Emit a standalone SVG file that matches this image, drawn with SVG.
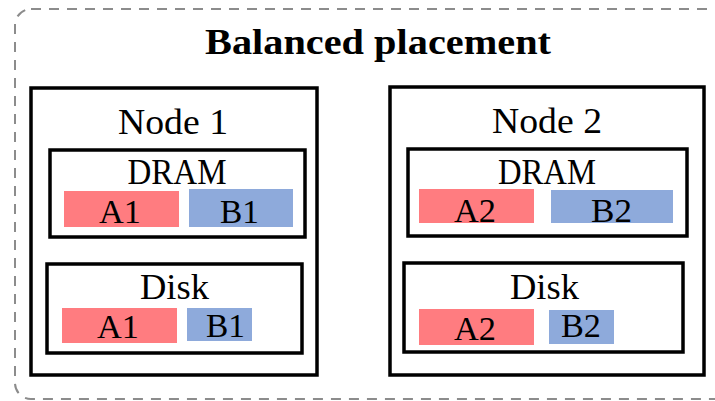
<svg xmlns="http://www.w3.org/2000/svg" width="715" height="401" viewBox="0 0 715 401">
  <style>
    .frame { fill: none; stroke: #8c8c8c; stroke-width: 2; stroke-dasharray: 10 8; }
    .box { fill: #ffffff; stroke: #000000; stroke-width: 3.5; }
    .a { fill: #ff7c80; }
    .b { fill: #8eaadb; }
    text { font-family: "Liberation Serif", "DejaVu Serif", serif; fill: #000000; text-anchor: middle; }
    .title { font-size: 35px; font-weight: bold; }
    .lbl { font-size: 36px; }
    .bar { font-size: 34px; }
  </style>
  <rect class="frame" x="15" y="9" width="730" height="390" rx="16" ry="16"/>
  <text class="title" x="378" y="54" textLength="346" lengthAdjust="spacingAndGlyphs">Balanced placement</text>

  <g id="node1">
    <rect class="box" x="31" y="88" width="286" height="287"/>
    <text class="lbl" x="173" y="134" textLength="110" lengthAdjust="spacingAndGlyphs">Node 1</text>
    <g id="node1-dram">
      <rect class="box" x="50" y="150" width="255" height="87"/>
      <text class="lbl" x="177" y="184" textLength="99" lengthAdjust="spacingAndGlyphs">DRAM</text>
      <rect class="a" x="64" y="191" width="115" height="36"/>
      <rect class="b" x="189" y="189" width="104" height="38"/>
      <text class="bar" x="120" y="223" textLength="42" lengthAdjust="spacingAndGlyphs">A1</text>
      <text class="bar" x="239.5" y="223" textLength="39" lengthAdjust="spacingAndGlyphs">B1</text>
    </g>
    <g id="node1-disk">
      <rect class="box" x="47" y="264" width="255" height="89"/>
      <text class="lbl" x="174.5" y="299" textLength="69" lengthAdjust="spacingAndGlyphs">Disk</text>
      <rect class="a" x="62" y="308" width="115" height="35"/>
      <rect class="b" x="187" y="308" width="65" height="33"/>
      <text class="bar" x="118" y="338" textLength="42" lengthAdjust="spacingAndGlyphs">A1</text>
      <text class="bar" x="225.5" y="337" textLength="39" lengthAdjust="spacingAndGlyphs">B1</text>
    </g>
  </g>

  <g id="node2">
    <rect class="box" x="390" y="87" width="314" height="288"/>
    <text class="lbl" x="547" y="133" textLength="110" lengthAdjust="spacingAndGlyphs">Node 2</text>
    <g id="node2-dram">
      <rect class="box" x="408" y="149" width="279" height="87"/>
      <text class="lbl" x="547" y="184" textLength="98" lengthAdjust="spacingAndGlyphs">DRAM</text>
      <rect class="a" x="419" y="189" width="115" height="34"/>
      <rect class="b" x="551" y="190" width="122" height="33"/>
      <text class="bar" x="475" y="222" textLength="42" lengthAdjust="spacingAndGlyphs">A2</text>
      <text class="bar" x="611.5" y="222" textLength="41" lengthAdjust="spacingAndGlyphs">B2</text>
    </g>
    <g id="node2-disk">
      <rect class="box" x="404" y="263" width="279" height="89"/>
      <text class="lbl" x="544.5" y="299" textLength="69" lengthAdjust="spacingAndGlyphs">Disk</text>
      <rect class="a" x="419" y="309" width="115" height="36"/>
      <rect class="b" x="549" y="310" width="65" height="34"/>
      <text class="bar" x="475" y="340" textLength="42" lengthAdjust="spacingAndGlyphs">A2</text>
      <text class="bar" x="581" y="337" textLength="40" lengthAdjust="spacingAndGlyphs">B2</text>
    </g>
  </g>

  <g id="connectors"/>
</svg>
